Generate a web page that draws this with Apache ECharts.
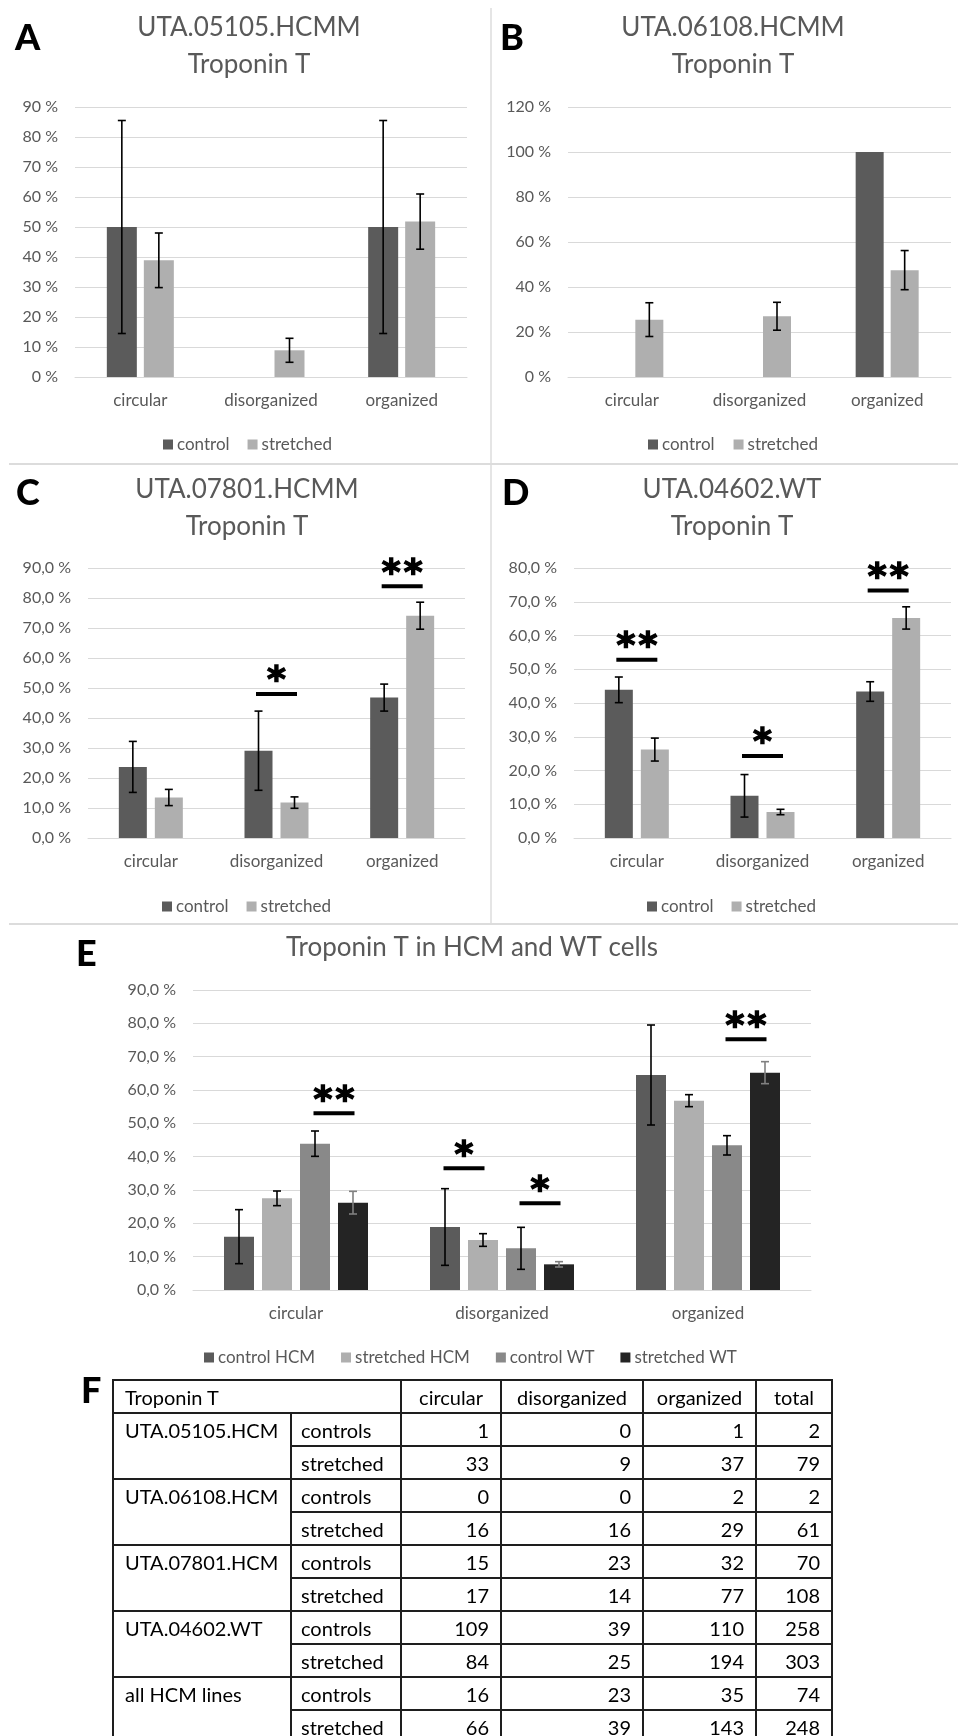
<!DOCTYPE html>
<html>
<head>
<meta charset="utf-8">
<title>Troponin T</title>
<script src="https://cdn.jsdelivr.net/npm/echarts@6/dist/echarts.min.js"></script>
<style>
  html, body { margin: 0; padding: 0; background: #fff; }
  #page { position: relative; width: 959px; height: 1736px; overflow: hidden; }
  #chart { position: absolute; left: 0; top: 0; width: 959px; height: 1736px; }
  #counts {
    position: absolute; left: 112px; top: 1379px; width: 719px;
    border-collapse: collapse; table-layout: fixed;
    font-family: Lato, "Noto Sans", sans-serif; font-size: 20px; color: #000;
  }
  #counts td {
    border: 2px solid #1e1e1e; height: 33px; padding: 0 11px;
    box-sizing: border-box; white-space: nowrap; line-height: 22px;
    vertical-align: middle; overflow: hidden;
  }
  #counts td.num { text-align: right; }
  #counts td.head { text-align: center; padding: 0 4px; }
  #counts td.line { vertical-align: top; padding-top: 5px; padding-left: 11px; }
  #counts td.cond { padding-left: 9px; }
</style>
</head>
<body>
<div id="page">
  <div id="chart"></div>
  <table id="counts"></table>
</div>
<script>
// ---------------- data ----------------
const categories = ['circular', 'disorganized', 'organized'];

// UTA.05105.HCMM
const aControl = [50.0, 0, 50.0];
const aControlErr = [35.5, 0, 35.5];
const aStretched = [38.9, 8.9, 51.8];
const aStretchedErr = [9.1, 4.0, 9.2];

// UTA.06108.HCMM
const bControl = [0, 0, 100.0];
const bControlErr = [0, 0, 0];
const bStretched = [25.5, 27.0, 47.5];
const bStretchedErr = [7.5, 6.2, 8.7];

// UTA.07801.HCMM
const cControl = [23.7, 29.1, 46.8];
const cControlErr = [8.5, 13.2, 4.5];
const cStretched = [13.5, 11.8, 74.1];
const cStretchedErr = [2.7, 1.9, 4.5];
// [category, bracket height, first bar, second bar, stars]
const cSignif = [[1, 48.0, 0, 1, '*'], [2, 83.9, 0, 1, '**']];

// UTA.04602.WT
const dControl = [43.9, 12.5, 43.4];
const dControlErr = [3.8, 6.3, 2.9];
const dStretched = [26.2, 7.7, 65.2];
const dStretchedErr = [3.4, 0.8, 3.3];
const dSignif = [[0, 52.8, 0, 1, '**'], [1, 24.3, 0, 1, '*'], [2, 73.3, 0, 1, '**']];

// HCM lines pooled vs. WT
const eControlHCM = [16.0, 18.9, 64.5];
const eControlHCMErr = [8.1, 11.5, 15.0];
const eStretchedHCM = [27.5, 15.0, 56.8];
const eStretchedHCMErr = [2.2, 1.9, 1.8];
const eControlWT = [43.9, 12.5, 43.4];
const eControlWTErr = [3.8, 6.3, 2.9];
const eStretchedWT = [26.2, 7.7, 65.2];
const eStretchedWTErr = [3.4, 0.8, 3.3];
const eSignif = [[0, 53.0, 2, 3, '**'], [1, 36.5, 0, 1, '*'], [1, 26.0, 2, 3, '*'], [2, 75.2, 2, 3, '**']];

// cell counts (table F)
const tableHeader = ['Troponin T', 'circular', 'disorganized', 'organized', 'total'];
const tableLines = ['UTA.05105.HCM', 'UTA.06108.HCM', 'UTA.07801.HCM', 'UTA.04602.WT', 'all HCM lines'];
const tableConditions = ['controls', 'stretched'];
const countsControls = [[1, 0, 1, 2], [0, 0, 2, 2], [15, 23, 32, 70], [109, 39, 110, 258], [16, 23, 35, 74]];
const countsStretched = [[33, 9, 37, 79], [16, 16, 29, 61], [17, 14, 77, 108], [84, 25, 194, 303], [66, 39, 143, 248]];

// ---------------- styling ----------------
const TEXT = '#595959';
const GRIDLINE = '#d9d9d9';
const FONT = 'Lato, "Noto Sans", sans-serif';
const COL_CONTROL = '#5b5b5b';
const COL_STRETCHED = '#afafaf';
const COL_CONTROL_WT = '#898989';
const COL_STRETCHED_WT = '#242424';

const panels = [
  {
    letter: 'A', letterX: 15, letterY: 38, title: ['UTA.05105.HCMM', 'Troponin T'], titleX: 249, titleY: 28,
    grid: { left: 75, top: 107, width: 392, height: 270 }, max: 90, interval: 10, decimals: 0,
    barWidth: 30, gap: 7, legend: { left: 163, top: 436, itemGap: 18 },
    groups: [
      { name: 'control', values: aControl, errors: aControlErr, color: COL_CONTROL, err: '#000' },
      { name: 'stretched', values: aStretched, errors: aStretchedErr, color: COL_STRETCHED, err: '#000' }
    ], signif: []
  },
  {
    letter: 'B', letterX: 500, letterY: 38, title: ['UTA.06108.HCMM', 'Troponin T'], titleX: 733, titleY: 28,
    grid: { left: 568, top: 107, width: 383, height: 270 }, max: 120, interval: 20, decimals: 0,
    barWidth: 28, gap: 7, legend: { left: 648, top: 436, itemGap: 19 },
    groups: [
      { name: 'control', values: bControl, errors: bControlErr, color: COL_CONTROL, err: '#000' },
      { name: 'stretched', values: bStretched, errors: bStretchedErr, color: COL_STRETCHED, err: '#000' }
    ], signif: []
  },
  {
    letter: 'C', letterX: 16, letterY: 493, title: ['UTA.07801.HCMM', 'Troponin T'], titleX: 247, titleY: 490,
    grid: { left: 88, top: 568, width: 377, height: 270 }, max: 90, interval: 10, decimals: 1,
    barWidth: 28, gap: 8, legend: { left: 162, top: 898, itemGap: 18 },
    groups: [
      { name: 'control', values: cControl, errors: cControlErr, color: COL_CONTROL, err: '#000' },
      { name: 'stretched', values: cStretched, errors: cStretchedErr, color: COL_STRETCHED, err: '#000' }
    ], signif: cSignif
  },
  {
    letter: 'D', letterX: 502, letterY: 493, title: ['UTA.04602.WT', 'Troponin T'], titleX: 732, titleY: 490,
    grid: { left: 574, top: 568, width: 377, height: 270 }, max: 80, interval: 10, decimals: 1,
    barWidth: 28, gap: 8, legend: { left: 647, top: 898, itemGap: 18 },
    groups: [
      { name: 'control', values: dControl, errors: dControlErr, color: COL_CONTROL, err: '#000' },
      { name: 'stretched', values: dStretched, errors: dStretchedErr, color: COL_STRETCHED, err: '#000' }
    ], signif: dSignif
  },
  {
    letter: 'E', letterX: 76, letterY: 954, title: ['Troponin T in HCM and WT cells'], titleX: 472, titleY: 948,
    grid: { left: 193, top: 990, width: 618, height: 300 }, max: 90, interval: 10, decimals: 1,
    barWidth: 30, gap: 8, legend: { left: 204, top: 1349, itemGap: 26 },
    groups: [
      { name: 'control HCM', values: eControlHCM, errors: eControlHCMErr, color: COL_CONTROL, err: '#000' },
      { name: 'stretched HCM', values: eStretchedHCM, errors: eStretchedHCMErr, color: COL_STRETCHED, err: '#000' },
      { name: 'control WT', values: eControlWT, errors: eControlWTErr, color: COL_CONTROL_WT, err: '#000' },
      { name: 'stretched WT', values: eStretchedWT, errors: eStretchedWTErr, color: COL_STRETCHED_WT, err: '#808080' }
    ], signif: eSignif
  }
];

// centre offset of each bar within its category
function barOffsets(n, w, gap) {
  const total = n * w + (n - 1) * gap;
  const out = [];
  for (let i = 0; i < n; i++) out.push(-total / 2 + w / 2 + i * (w + gap));
  return out;
}

function errorRender(off, color) {
  return function (params, api) {
    const e = api.value(2);
    if (!e) return null;
    const v = api.value(1);
    const hi = api.coord([api.value(0), v + e]);
    const lo = api.coord([api.value(0), v - e]);
    const x = hi[0] + off;
    const cap = 4;
    const style = { stroke: color, lineWidth: 1.6 };
    return {
      type: 'group',
      children: [
        { type: 'line', shape: { x1: x, y1: hi[1], x2: x, y2: lo[1] }, style },
        { type: 'line', shape: { x1: x - cap, y1: hi[1], x2: x + cap, y2: hi[1] }, style },
        { type: 'line', shape: { x1: x - cap, y1: lo[1], x2: x + cap, y2: lo[1] }, style }
      ]
    };
  };
}

function signifRender(offs, marks) {
  return function (params, api) {
    const m = marks[params.dataIndex];
    const p = api.coord([api.value(0), api.value(1)]);
    const cx = p[0] + (offs[m[2]] + offs[m[3]]) / 2;
    const half = 20.5;
    const children = [
      { type: 'rect', shape: { x: cx - half, y: p[1] - 2, width: half * 2, height: 4 }, style: { fill: '#000' } }
    ];
    const n = m[4].length;
    for (let k = 0; k < n; k++) {
      children.push({
        type: 'text', x: cx + (k - (n - 1) / 2) * 22, y: p[1] - 12,
        style: {
          text: '*', font: 'bold 36px "DejaVu Sans"', fill: '#000',
          stroke: '#000', lineWidth: 1.4, align: 'center', verticalAlign: 'middle'
        }
      });
    }
    return { type: 'group', children };
  };
}

const grids = [], xAxes = [], yAxes = [], series = [], legends = [], graphics = [];

panels.forEach((p, pi) => {
  grids.push(Object.assign({ containLabel: false }, p.grid));
  xAxes.push({
    type: 'category', gridIndex: pi, data: categories,
    axisLine: { lineStyle: { color: GRIDLINE, width: 1 } }, axisTick: { show: false },
    axisLabel: { color: TEXT, fontFamily: FONT, fontSize: 17, margin: 15, interval: 0 }
  });
  yAxes.push({
    type: 'value', gridIndex: pi, min: 0, max: p.max, interval: p.interval,
    axisLine: { show: false }, axisTick: { show: false },
    splitLine: { lineStyle: { color: GRIDLINE, width: 1 } },
    axisLabel: {
      color: TEXT, fontFamily: FONT, fontSize: 16, margin: 17,
      formatter: v => (p.decimals ? v.toFixed(1).replace('.', ',') : String(v)) + ' %'
    }
  });
  const offs = barOffsets(p.groups.length, p.barWidth, p.gap);
  p.groups.forEach((g) => {
    series.push({
      type: 'bar', name: g.name, xAxisIndex: pi, yAxisIndex: pi, data: g.values,
      barWidth: p.barWidth, barGap: (p.gap / p.barWidth * 100) + '%',
      itemStyle: { color: g.color }, silent: true
    });
  });
  p.groups.forEach((g, gi) => {
    series.push({
      type: 'custom', name: g.name + ' error', xAxisIndex: pi, yAxisIndex: pi, silent: true, z: 5,
      data: g.values.map((v, i) => [i, v, g.errors[i]]),
      encode: { x: 0, y: 1 },
      renderItem: errorRender(offs[gi], g.err)
    });
  });
  if (p.signif.length) {
    series.push({
      type: 'custom', name: 'significance ' + p.letter, xAxisIndex: pi, yAxisIndex: pi, silent: true, z: 6,
      data: p.signif.map(m => [m[0], m[1]]),
      encode: { x: 0, y: 1 },
      renderItem: signifRender(offs, p.signif)
    });
  }
  legends.push({
    left: p.legend.left, top: p.legend.top, padding: 0, itemGap: p.legend.itemGap,
    itemWidth: 10, itemHeight: 10, icon: 'rect', selectedMode: false,
    data: p.groups.map(g => g.name),
    textStyle: { color: TEXT, fontFamily: FONT, fontSize: 17, padding: [0, 0, 0, -1] }
  });
  p.title.forEach((t, ti) => {
    graphics.push({
      type: 'text', x: p.titleX, y: p.titleY + ti * 37, silent: true,
      style: { text: t, fill: TEXT, font: '26px ' + FONT, align: 'center', verticalAlign: 'middle' }
    });
  });
  graphics.push({
    type: 'text', x: p.letterX, y: p.letterY, silent: true,
    style: { text: p.letter, fill: '#000', font: '900 36px ' + FONT, align: 'left', verticalAlign: 'middle' }
  });
});

// panel F letter
graphics.push({
  type: 'text', x: 81, y: 1391, silent: true,
  style: { text: 'F', fill: '#000', font: '900 36px ' + FONT, align: 'left', verticalAlign: 'middle' }
});

// panel separators
const SEP = '#dcdcdc';
graphics.push(
  { type: 'line', silent: true, shape: { x1: 491, y1: 8, x2: 491, y2: 924 }, style: { stroke: SEP, lineWidth: 1.5 } },
  { type: 'line', silent: true, shape: { x1: 9, y1: 464, x2: 958, y2: 464 }, style: { stroke: SEP, lineWidth: 2 } },
  { type: 'line', silent: true, shape: { x1: 9, y1: 924, x2: 958, y2: 924 }, style: { stroke: SEP, lineWidth: 2 } }
);

const chart = echarts.init(document.getElementById('chart'), null, { renderer: 'canvas' });
chart.setOption({
  animation: false,
  backgroundColor: '#fff',
  textStyle: { fontFamily: FONT },
  grid: grids,
  xAxis: xAxes,
  yAxis: yAxes,
  legend: legends,
  series: series,
  graphic: { elements: graphics }
});

// ---------------- table F ----------------
(function buildTable() {
  const table = document.getElementById('counts');
  const colWidths = [178, 110, 100, 142, 113, 76];
  const cg = document.createElement('colgroup');
  colWidths.forEach(w => { const c = document.createElement('col'); c.style.width = w + 'px'; cg.appendChild(c); });
  table.appendChild(cg);

  const head = document.createElement('tr');
  tableHeader.forEach((h, i) => {
    const td = document.createElement('td');
    td.textContent = h;
    if (i === 0) { td.colSpan = 2; td.style.paddingLeft = '11px'; } else { td.className = 'head'; }
    head.appendChild(td);
  });
  table.appendChild(head);

  tableLines.forEach((line, li) => {
    [countsControls[li], countsStretched[li]].forEach((row, ri) => {
      const tr = document.createElement('tr');
      if (ri === 0) {
        const td = document.createElement('td');
        td.rowSpan = 2; td.className = 'line'; td.textContent = line;
        tr.appendChild(td);
      }
      const cond = document.createElement('td');
      cond.className = 'cond'; cond.textContent = tableConditions[ri];
      tr.appendChild(cond);
      row.forEach(v => {
        const td = document.createElement('td');
        td.className = 'num'; td.textContent = v;
        tr.appendChild(td);
      });
      table.appendChild(tr);
    });
  });
})();
</script>
</body>
</html>
